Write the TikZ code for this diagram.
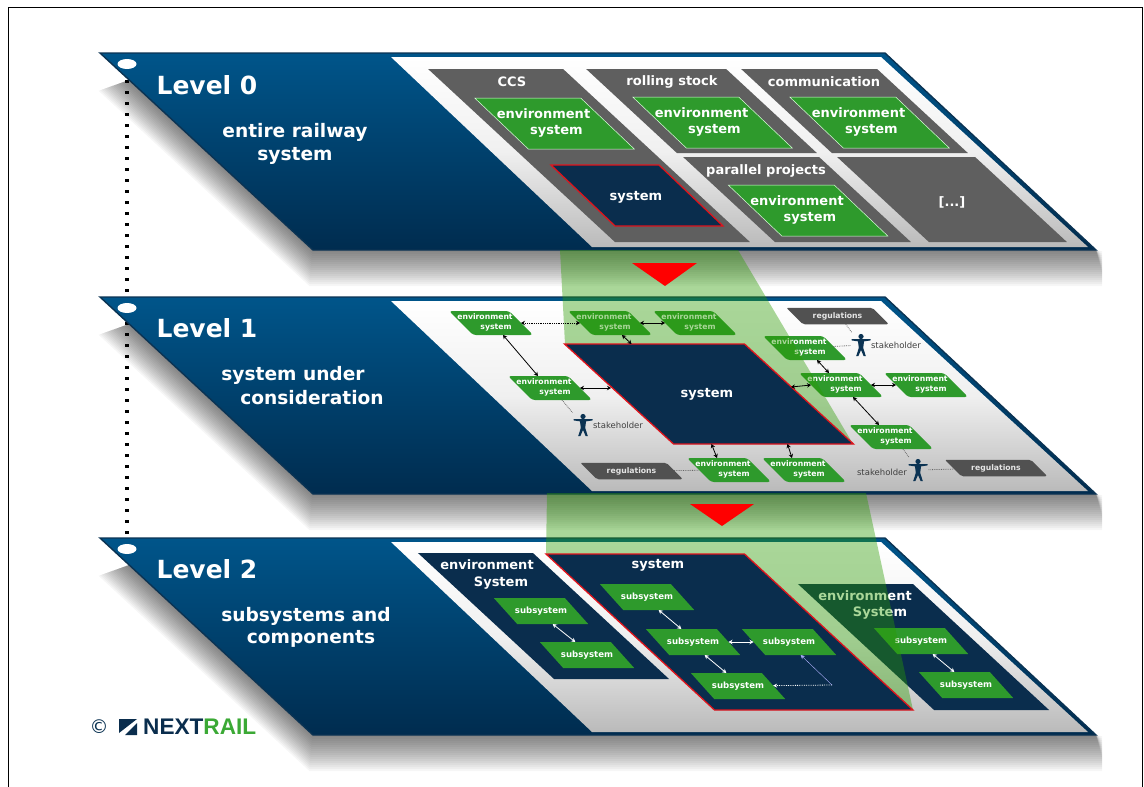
\documentclass[tikz,border=0pt]{standalone}
\usepackage{fontspec}
\setmainfont{DejaVu Sans}
\newfontfamily\logofont{Liberation Sans}
\usetikzlibrary{arrows.meta,backgrounds,shapes.geometric}

\definecolor{navy}{HTML}{0A2D4D}
\definecolor{edgeblue}{HTML}{0B3353}
\definecolor{topblue}{HTML}{00558A}
\definecolor{lowblue}{HTML}{002C4F}
\definecolor{railgreen}{HTML}{2E9A2C}
\definecolor{logogreen}{HTML}{3BA935}
\definecolor{bandgreen}{HTML}{2A9B00}
\definecolor{boxgray}{HTML}{5F5F5F}
\definecolor{sysred}{HTML}{E0141C}

% environment system, small and large
\newcommand{\envnode}[2]{
  \node[envbox] (#1) at (#2) {};
  \node[envlbl] (#1a) at ([shift={(-6,-6)}]#1) {environment};
  \node[envlbl] (#1b) at ([shift={(5,5)}]#1) {system};
}
\newcommand{\bigenv}[2]{
  \node[bigbox] (#1) at (#2) {};
  \node[midlbl] (#1a) at ([shift={(-11,-11)}]#1) {environment};
  \node[midlbl] (#1b) at ([shift={(2,7)}]#1) {system};
}
\newcommand{\subnode}[2]{
  \node[subbox] (#1) at (#2) {};
  \node[sublbl] (#1a) at (#1) {subsystem};
}
\newcommand{\stakeman}[2]{
  \node[manbox] (#1) at (#2) {};
  \fill[edgeblue,shift={(#2)}] (0,-8.5) circle [radius=2.6pt];
  \fill[edgeblue,shift={(#2)}] (-9.5,-5.8) -- (9.5,-5.8) -- (9.5,-4.6) -- (3,-3.6) -- (2.2,3) -- (4.8,11)
    -- (2.6,11) -- (0,5) -- (-2.6,11) -- (-4.8,11) -- (-2.2,3) -- (-3,-3.6) -- (-9.5,-4.6) -- cycle;
}

\begin{document}
\begin{tikzpicture}[x=1pt,y=-1pt,
    darr/.style={<->,>={Stealth[length=4pt,width=4.5pt]},thick,black},
    warr/.style={<->,>={Stealth[length=4pt,width=4.5pt]},thick,white},
    gdot/.style={densely dotted,thick,gray!80!black}]
  \tikzstyle{slbox}=[inner sep=0pt,outer sep=0pt]
  \tikzstyle{graybox}=[slbox,xslant=-1.08,fill=boxgray]
  \tikzstyle{navybox}=[slbox,xslant=-1.08,fill=navy]
  \tikzstyle{sysbox}=[slbox,fill=navy,draw=sysred,line width=1.3pt]
  \tikzstyle{bigbox}=[slbox,xslant=-1.05,fill=railgreen,draw=green!15!white,line width=.5pt,minimum width=106,minimum height=51]
  \tikzstyle{envbox}=[slbox,xslant=-1,fill=railgreen,rounded corners=3pt,minimum width=60,minimum height=24]
  \tikzstyle{subbox}=[slbox,xslant=-.9,fill=railgreen,minimum width=71,minimum height=26]
  \tikzstyle{regbox}=[slbox,xslant=-1,fill=boxgray!85!black,rounded corners=2pt,minimum width=86,minimum height=16.5]
  \tikzstyle{manbox}=[inner sep=0pt,outer sep=1pt,minimum width=19,minimum height=23]
  \tikzstyle{hole}=[ellipse,fill=white,inner sep=0pt,minimum width=19,minimum height=10]
  \tikzstyle{levlbl}=[text=white,font=\bfseries\fontsize{25}{28}\selectfont]
  \tikzstyle{toplbl}=[text=white,font=\bfseries\fontsize{18.6}{22}\selectfont]
  \tikzstyle{midlbl}=[text=white,yshift=-1pt,font=\bfseries\fontsize{13}{15}\selectfont]
  \tikzstyle{envlbl}=[text=white,font=\bfseries\fontsize{7.7}{9}\selectfont]
  \tikzstyle{sublbl}=[text=white,font=\bfseries\fontsize{8.6}{10}\selectfont]
  \tikzstyle{reglbl}=[text=white!90!black,font=\bfseries\fontsize{7.7}{9}\selectfont]
  \tikzstyle{stklbl}=[text=black!75,font=\fontsize{8.5}{10}\selectfont]
  \tikzstyle{band}=[fill=bandgreen,fill opacity=.4]

  \useasboundingbox (0,0) rectangle (1144,787);
  \draw[black,line width=1pt] (8,787) -- (8,7) -- (1142.5,7) -- (1142.5,787);

  % The three plates
  \foreach \i/\y in {0/0,1/244,2/485}{
    \begin{scope}[shift={(0,\y)}]
      \foreach \d in {2,4,...,36}{
        \fill[black,opacity=.035] (129,80) -- ({129.4-.856*\d},{80+.3*\d}) -- ({313-.1*\d},{250+\d})
          -- (1102,{250+\d}) -- (1102,{250+.6*\d}) -- (1096,250) -- (885,53) -- cycle;
      }
      \shade[top color=topblue,bottom color=lowblue,draw=edgeblue,line width=1.4pt]
        (100,53) -- (885,53) -- (1096,250) -- (313,250) -- cycle;
      \shade[top color=white,bottom color=black!27,middle color=black!6]
        (391,57) -- (881,57) -- (1088,247) -- (592,247) -- cycle;
      \node[hole] (hole\i) at (127,64) {};
    \end{scope}
  }
  \begin{pgfonlayer}{background}
    \draw[black,line width=3.2pt,dash pattern=on 3pt off 8pt] (hole0) -- (hole2);
  \end{pgfonlayer}

  \node[levlbl] (lev0) at (207,85) {Level 0};
  \node[toplbl] (top0a) at (295,132) {entire railway};
  \node[toplbl] (top0b) at (295,156) {system};
  \node[levlbl] (lev1) at (207,328) {Level 1};
  \node[toplbl] (top1a) at (293,375) {system under};
  \node[toplbl] (top1b) at (312,398) {consideration};
  \node[levlbl] (lev2) at (207,569) {Level 2};
  \node[toplbl] (top2a) at (306,616) {subsystems and};
  \node[toplbl] (top2b) at (311,639) {components};

  % Level 0
  \node[graybox,minimum width=135,minimum height=173] (ccs) at (589,155.5) {};
  \node[graybox,minimum width=140,minimum height=84] (rolling) at (701.5,111) {};
  \node[graybox,minimum width=136,minimum height=84] (comm) at (854.5,111) {};
  \node[graybox,minimum width=136,minimum height=85] (parallel) at (797,199.5) {};
  \node[graybox,minimum width=138,minimum height=85] (dots) at (952,199.5) {};
  \node[midlbl] (ccslbl) at (512,81) {CCS};
  \node[midlbl] (rollinglbl) at (672,81) {rolling stock};
  \node[midlbl] (commlbl) at (824,81) {communication};
  \node[midlbl] (parallellbl) at (766,170) {parallel projects};
  \node[midlbl] (dotslbl) at (952,201) {[...]};
  \bigenv{envccs}{554.5,123.5}
  \bigenv{envrol}{712.5,122.5}
  \bigenv{envcom}{869.5,122.5}
  \bigenv{envpar}{808,210.5}
  \node[sysbox,xslant=-1.05,minimum width=108,minimum height=61] (sys0) at (637,195.5) {};
  \node[midlbl] (sys0lbl) at (636,196) {system};

  % Level 1
  \envnode{enva}{491,323}
  \envnode{envb}{610,323}
  \envnode{envc}{695,323}
  \envnode{envd}{550,388}
  \envnode{enve}{729,470}
  \envnode{envf}{804,470}
  \envnode{envg}{805,348}
  \envnode{envh}{841,385}
  \envnode{envi}{926,385}
  \envnode{envj}{891,437}
  \node[regbox] (reg1) at (631.5,471) {};
  \node[regbox] (reg2) at (837.5,316) {};
  \node[regbox] (reg3) at (996,468) {};
  \node[reglbl] (reg1lbl) at (reg1) {regulations};
  \node[reglbl] (reg2lbl) at (reg2) {regulations};
  \node[reglbl] (reg3lbl) at (reg3) {regulations};
  \stakeman{stk1}{583,425}
  \stakeman{stk2}{861,345}
  \stakeman{stk3}{918,470}
  \node[stklbl] (stk1lbl) at (618,425) {stakeholder};
  \node[stklbl] (stk2lbl) at (896,345) {stakeholder};
  \node[stklbl] (stk3lbl) at (882,472) {stakeholder};

  % Green band from level 0 down to the system of level 1
  \fill[band] (560,250) -- (738,250) -- (853,444) -- (565,344) -- cycle;
  \node[sysbox,xslant=-1.09,minimum width=180,minimum height=100] (sys1) at (709,394) {};
  \node[midlbl] (sys1lbl) at (707,393) {system};

  \draw[darr,densely dotted] (enva) -- (envb);
  \draw[darr] (envb) -- (envc);
  \draw[darr] (envb.south) -- ([shift={(-23,0)}]sys1.north);
  \draw[darr] (enva.south) -- (envd.north);
  \draw[darr] (envd.east) -- ([shift={(-8,-6)}]sys1.west);
  \draw[gdot] (envd.south) -- (stk1);
  \draw[gdot] (reg1) -- (enve);
  \draw[gdot] (reg2.south) -- (stk2);
  \draw[gdot] (envg) -- (stk2);
  \draw[darr] (envg.south) -- (envh.north);
  \draw[darr] ([shift={(-8,-7)}]sys1.east) -- (envh.west);
  \draw[darr] (envh) -- (envi);
  \draw[darr] (envh.south) -- (envj.north);
  \draw[gdot] (envj.south) -- (stk3);
  \draw[gdot] (stk3) -- (reg3);
  \draw[darr] ([shift={(-52,0)}]sys1.south) -- (enve.north);
  \draw[darr] ([shift={(24,0)}]sys1.south) -- (envf.north);

  % Level 2
  \node[navybox,minimum width=115,minimum height=126] (envl) at (543.5,616) {};
  \node[navybox,minimum width=115,minimum height=126] (envr) at (923.5,647) {};
  \node[midlbl] (envla) at (487,564) {environment};
  \node[midlbl] (envlb) at (501,582) {System};
  \node[midlbl] (envra) at (865,595) {environment};
  \node[midlbl] (envrb) at (880,612) {System};
  \subnode{subl}{541,611}
  \subnode{subm}{587,655}
  \subnode{subr}{921,641}
  \subnode{subs}{966,685}
  \draw[warr] (subl.south) -- (subm.north);
  \draw[warr] (subr.south) -- (subs.north);

  % Green band from level 1 down to the system of level 2
  \fill[band] (547,493) -- (866,493) -- (913,710) -- (546,554) -- cycle;
  \node[sysbox,xslant=-1.08,minimum width=198.5,minimum height=156] (sys2) at (729.5,632) {};
  \node[midlbl] (sys2lbl) at (658,564) {system};
  \subnode{suba}{647,597}
  \subnode{subb}{693,642}
  \subnode{subc}{789,642}
  \subnode{subd}{738,686}
  \coordinate (turn) at (832,685);
  \draw[warr] (suba.south) -- (subb.north);
  \draw[warr] (subb.south) -- (subd.north);
  \draw[warr] (subb) -- (subc);
  \draw[->,>={Stealth[length=4pt,width=4pt]},white,densely dotted,thick] (turn) -- (subd);
  \draw[->,>={Stealth[length=4pt,width=4pt]},white!70!blue] (turn) -- (subc.south);

  % Red arrows between the levels
  \fill[red] (632,263) -- (697,263) -- (665,286) -- cycle;
  \fill[red] (690,504) -- (754,504) -- (722,526) -- cycle;

  % Logo
  \node[text=edgeblue,font=\fontsize{19}{21}\selectfont] (copyr) at (99,727) {©};
  \fill[navy] (119,719) -- (137,719) -- (119,733) -- cycle;
  \fill[navy] (137,723) -- (137,735) -- (125,735) -- cycle;
  \node[anchor=west,inner sep=0pt,font=\logofont\bfseries\fontsize{22.6}{25}\selectfont] (logo) at (143,727)
    {\textcolor{navy}{NEXT}\textcolor{logogreen}{RAIL}};
\end{tikzpicture}
\end{document}
